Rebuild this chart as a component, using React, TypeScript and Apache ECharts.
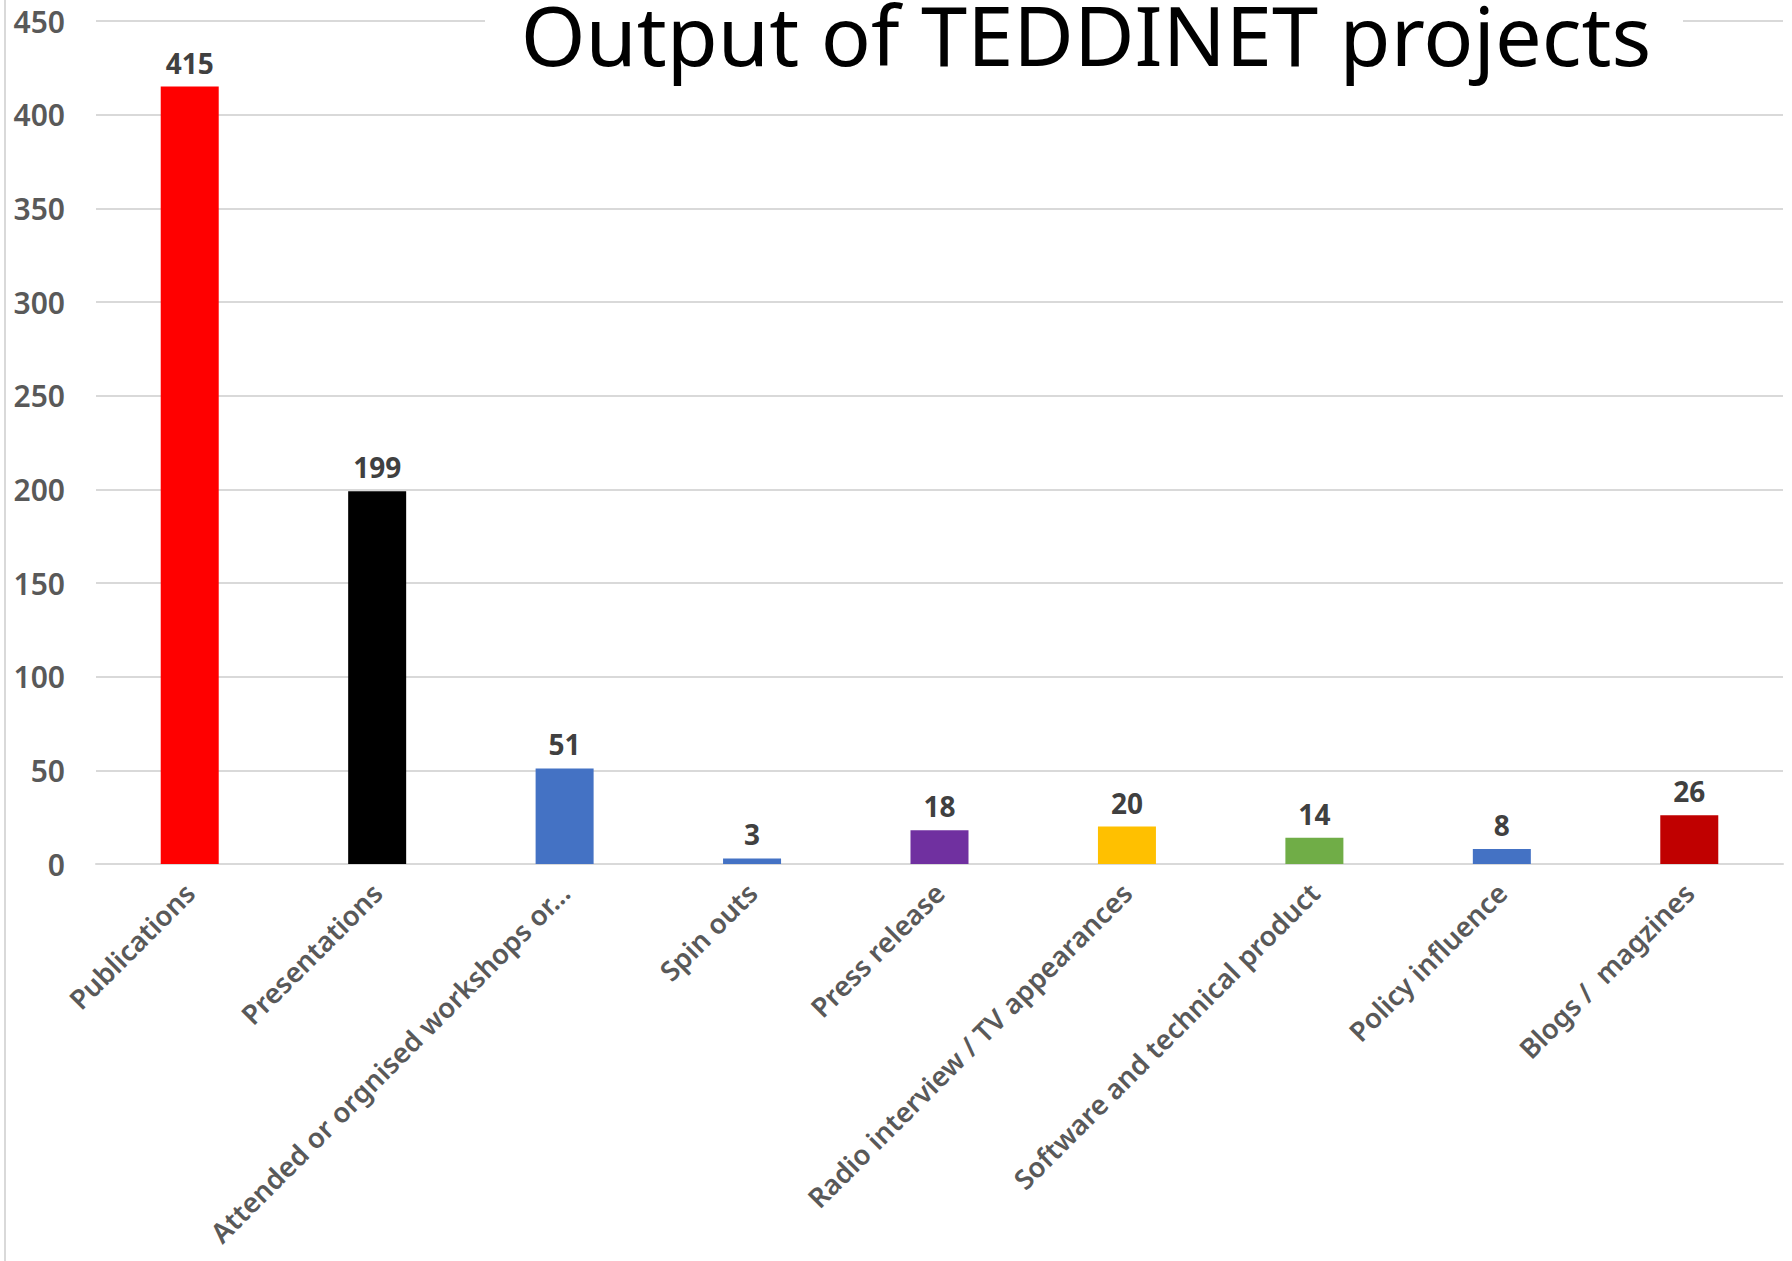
import React, { useEffect, useRef } from "react";
import * as echarts from "echarts";

const categories = [
  "Publications",
  "Presentations",
  "Attended or orgnised workshops or…",
  "Spin outs",
  "Press release",
  "Radio interview / TV appearances",
  "Software and technical product",
  "Policy influence",
  "Blogs /  magzines",
];
const values = [415, 199, 51, 3, 18, 20, 14, 8, 26];
const barColors = [
  "#FF0000",
  "#000000",
  "#4472C4",
  "#4472C4",
  "#7030A0",
  "#FFC000",
  "#70AD47",
  "#4472C4",
  "#C00000",
];
const titleText = "Output of TEDDINET projects";
const yMin = 0;
const yMax = 450;
const yInterval = 50;

export default function App() {
  const ref = useRef<HTMLDivElement>(null);
  useEffect(() => {
    if (!ref.current) return;
    const chart = echarts.init(ref.current, null, { renderer: "svg" });
    const font = "'Noto Sans', sans-serif";
    chart.setOption({
      animation: false,
      backgroundColor: "#ffffff",
      grid: {
        left: 96,
        right: 9,
        top: 21,
        bottom: 397,
        containLabel: false,
        outerBoundsMode: "none",
      },
      xAxis: {
        type: "category",
        data: categories,
        axisLine: { show: true, lineStyle: { color: "#d9d9d9", width: 2 } },
        axisTick: { show: false },
        axisLabel: {
          interval: 0,
          rotate: 45,
          margin: 24,
          color: "#595959",
          fontFamily: font,
          fontSize: 27.5,
          fontWeight: 600,
        },
      },
      yAxis: {
        type: "value",
        min: yMin,
        max: yMax,
        interval: yInterval,
        axisLine: { show: false },
        axisTick: { show: false },
        splitLine: { show: true, lineStyle: { color: "#d9d9d9", width: 2 } },
        axisLabel: {
          margin: 31,
          color: "#595959",
          fontFamily: font,
          fontSize: 30,
          fontWeight: 600,
        },
      },
      series: [
        {
          type: "bar",
          barWidth: 58,
          data: values.map((v, i) => ({ value: v, itemStyle: { color: barColors[i] } })),
          label: {
            show: true,
            position: "top",
            distance: 10,
            color: "#404040",
            fontFamily: font,
            fontSize: 28,
            fontWeight: 700,
          },
        },
      ],
      graphic: [
        {
          type: "line",
          z: 50,
          shape: { x1: 5, y1: 0, x2: 5, y2: 1261 },
          style: { stroke: "#d9d9d9", lineWidth: 2 },
        },
        {
          type: "rect",
          z: 100,
          shape: { x: 485, y: 0, width: 1198, height: 92 },
          style: { fill: "#ffffff" },
        },
        {
          type: "text",
          z: 101,
          x: 1086,
          y: 33,
          style: {
            text: titleText,
            fill: "#000000",
            font: "normal 83px 'Noto Sans', sans-serif",
            textAlign: "center",
            textVerticalAlign: "middle",
          },
        },
      ],
    });
    return () => chart.dispose();
  }, []);
  return (
    <div
      ref={ref}
      style={{ position: "fixed", left: 0, top: 0, width: 1792, height: 1261 }}
    />
  );
}
